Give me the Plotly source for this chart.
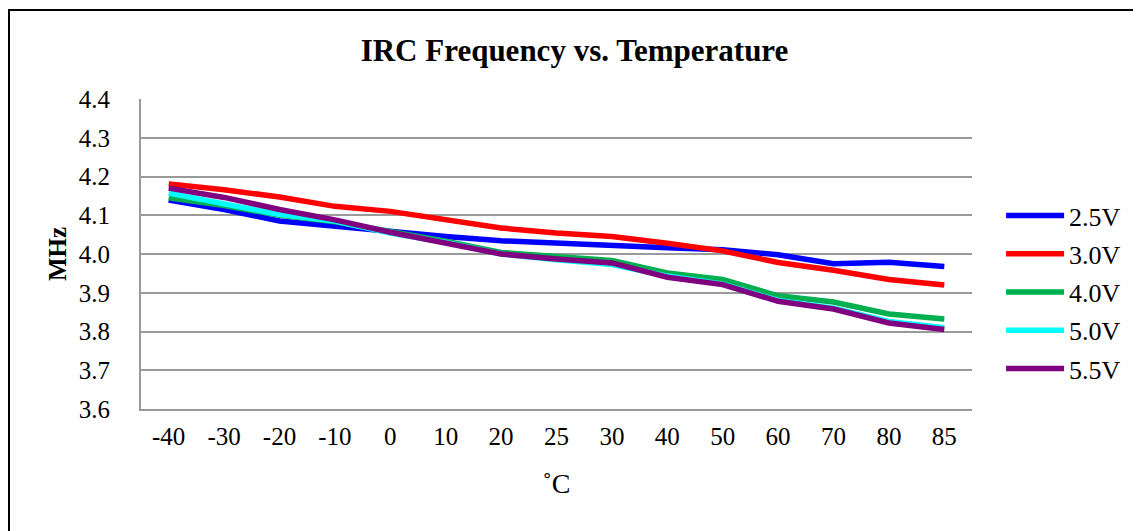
import plotly.graph_objects as go

temps = ["-40", "-30", "-20", "-10", "0", "10", "20", "25", "30", "40", "50", "60", "70", "80", "85"]
v25 = [4.139, 4.115, 4.085, 4.071, 4.058, 4.045, 4.034, 4.027, 4.021, 4.016, 4.011, 3.998, 3.975, 3.979, 3.968]
v30 = [4.181, 4.166, 4.147, 4.123, 4.110, 4.088, 4.067, 4.054, 4.045, 4.028, 4.008, 3.978, 3.958, 3.934, 3.920]
v40 = [4.145, 4.125, 4.100, 4.083, 4.058, 4.033, 4.004, 3.994, 3.983, 3.951, 3.934, 3.892, 3.876, 3.845, 3.832]
v50 = [4.157, 4.130, 4.102, 4.085, 4.054, 4.030, 4.000, 3.985, 3.973, 3.943, 3.922, 3.880, 3.860, 3.826, 3.810]
v55 = [4.170, 4.146, 4.115, 4.088, 4.056, 4.028, 4.000, 3.987, 3.977, 3.940, 3.921, 3.878, 3.858, 3.822, 3.805]

series = [
    ("2.5V", v25, "#0000FF"),
    ("3.0V", v30, "#FF0000"),
    ("4.0V", v40, "#00B050"),
    ("5.0V", v50, "#00FFFF"),
    ("5.5V", v55, "#800080"),
]

fig = go.Figure()
for i, (name, vals, col) in enumerate(series):
    fig.add_trace(go.Scatter(
        x=temps, y=vals, name=name, mode="lines",
        line=dict(color=col, width=5.5), legendgroup=f"g{i}",
    ))

font_family = "Liberation Serif"
L, T, PW, PH = 133, 91, 831, 310
fig.update_layout(
    width=1133, height=523,
    margin=dict(l=L, r=1133 - L - PW, t=T, b=523 - T - PH),
    paper_bgcolor="white", plot_bgcolor="white",
    font=dict(family=font_family, size=25, color="black"),
    title=dict(text="<b>IRC Frequency vs. Temperature</b>", x=0.5, xanchor="center",
               y=0.92, yanchor="middle", font=dict(size=31, family=font_family, color="black")),
    showlegend=True,
    legend=dict(x=1.035, xanchor="left", y=0.70, yanchor="top", tracegroupgap=1.5,
                itemwidth=58, font=dict(size=26, family=font_family),
                bgcolor="rgba(0,0,0,0)"),
    shapes=[dict(type="rect", xref="paper", yref="paper",
                 x0=(1 - L) / PW, x1=(1160 - L) / PW,
                 y0=(T + PH - 560) / PH, y1=(T + PH - 2) / PH,
                 line=dict(color="black", width=2), fillcolor="rgba(0,0,0,0)", layer="below")],
)
fig.update_xaxes(
    type="category", range=[-0.5, 14.5], showgrid=False,
    showline=True, linecolor="#9a9a9a", linewidth=2, mirror=False,
    ticks="", ticklabelstandoff=4, zeroline=False, tickfont=dict(size=25),
    title=dict(text="˚C", font=dict(size=28, family=font_family), standoff=24),
)
fig.update_yaxes(
    range=[3.6, 4.4], dtick=0.1, tickformat=".1f",
    showgrid=True, gridcolor="#9a9a9a", gridwidth=2,
    showline=True, linecolor="#9a9a9a", linewidth=2,
    ticks="", ticklabelstandoff=24, zeroline=False, tickfont=dict(size=25),
    title=dict(text="<b>MHz</b>", font=dict(size=25, family=font_family), standoff=5),
)
fig.write_html("out.html")
